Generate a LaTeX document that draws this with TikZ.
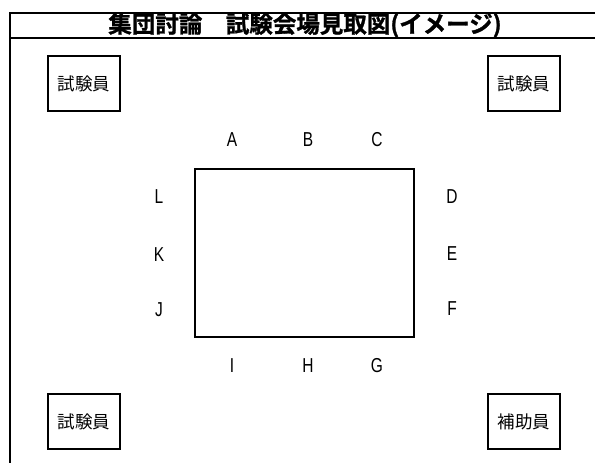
\documentclass[tikz,border=0pt]{standalone}
\usepackage{fontspec}
\newfontfamily\cjk{Noto Sans CJK JP}
\newfontfamily\cjkb[FakeBold=1.2]{Noto Sans CJK JP Bold}
\setmainfont{Liberation Sans}
\begin{document}
\begin{tikzpicture}[x=1pt,y=-1pt,
  frameline/.style={line width=2pt},
  staffbox/.style={draw,line width=1.8pt,minimum width=72pt,minimum height=55pt,inner sep=0pt,font=\cjk\fontsize{17.5}{17.5}\selectfont},
  seat/.style={inner sep=0pt,font=\fontsize{15.5}{15.5}\selectfont}]
\useasboundingbox (0,0) rectangle (595,463);
\fill[white] (0,0) rectangle (595,463);
% frame
\coordinate (fbl) at (10,463);
\coordinate (ftl) at (10,12.5);
\coordinate (ftr) at (596,12.5);
\coordinate (ttl) at (10,37.5);
\coordinate (ttr) at (596,37.5);
\draw[frameline] (fbl) -- (ftl) -- (ftr);
\draw[frameline] (ttl) -- (ttr);
\node[inner sep=0pt,font=\cjkb\fontsize{23.5}{23.5}\selectfont] (title) at (305,25) {集団討論　試験会場見取図(イメージ)};
% staff boxes
\node[staffbox] (s1) at (84,83.5) {試験員};
\node[staffbox] (s2) at (524,83.5) {試験員};
\node[staffbox] (s3) at (84,421.5) {試験員};
\node[staffbox] (s4) at (524,421.5) {補助員};
% table
\node[draw,line width=1.8pt,minimum width=219pt,minimum height=168pt,inner sep=0pt] (table) at (304.5,253) {};
% seats
\node[seat] (A) at (232,140) {\scalebox{1}[1.3]{A}};
\node[seat] (B) at (308,140) {\scalebox{1}[1.3]{B}};
\node[seat] (C) at (377,140) {\scalebox{1}[1.3]{C}};
\node[seat] (D) at (452,197) {\scalebox{1}[1.3]{D}};
\node[seat] (E) at (452,254) {\scalebox{1}[1.3]{E}};
\node[seat] (F) at (452,309) {\scalebox{1}[1.3]{F}};
\node[seat] (G) at (377,366) {\scalebox{1}[1.3]{G}};
\node[seat] (H) at (308,366) {\scalebox{1}[1.3]{H}};
\node[seat] (I) at (232,366) {\scalebox{1}[1.3]{I}};
\node[seat] (J) at (159,310) {\scalebox{1}[1.3]{J}};
\node[seat] (K) at (159,255) {\scalebox{1}[1.3]{K}};
\node[seat] (L) at (159,197) {\scalebox{1}[1.3]{L}};
\end{tikzpicture}
\end{document}
